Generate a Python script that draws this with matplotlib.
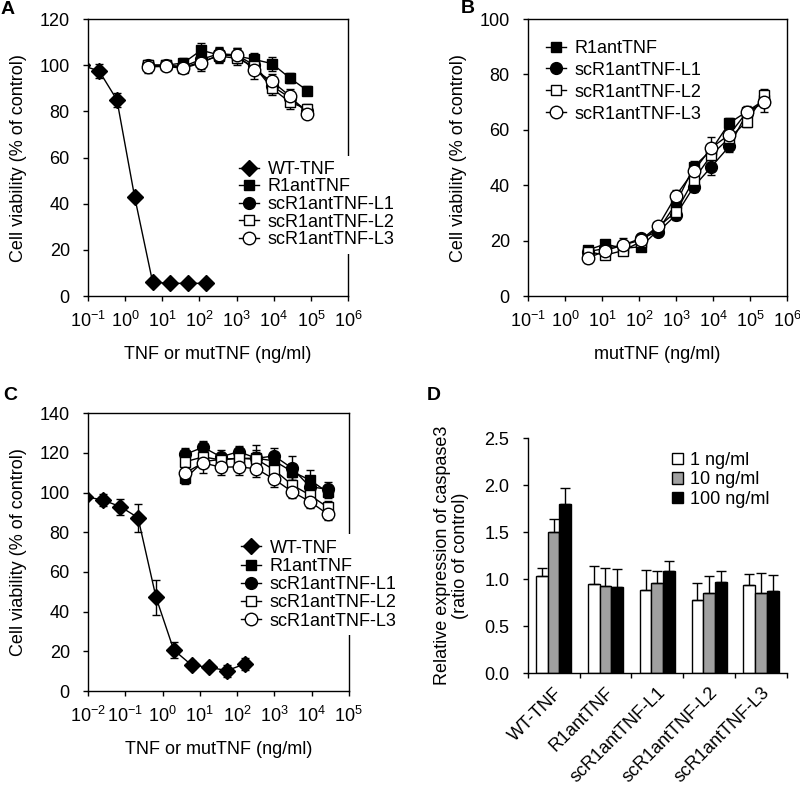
import numpy as np
import matplotlib
matplotlib.use('Agg')
import matplotlib.pyplot as plt

plt.rcParams['font.family'] = ['Liberation Sans', 'DejaVu Sans']
plt.rcParams['mathtext.fontset'] = 'custom'
plt.rcParams['mathtext.rm'] = 'Liberation Sans'
plt.rcParams['font.size'] = 13
plt.rcParams['axes.linewidth'] = 1.0

labels = ['WT-TNF', 'R1antTNF', 'scR1antTNF-L1', 'scR1antTNF-L2', 'scR1antTNF-L3']

# panel A
wt_a_x = [0.067, 0.2, 0.6, 1.8, 5.5, 16, 50, 150]
wt_a = [100, 97.5, 85, 43, 6, 5.5, 5.5, 5.5]
wt_a_err = [0, 3, 3, 1.5, 1, 0.5, 0.5, 0.5]
mut_a_x = [4.1, 12.3, 37, 111, 333, 1000, 3000, 9000, 27000, 81000]
r1_a = [100, 100, 101, 106.5, 104.5, 104, 102.5, 100.7, 94.5, 89]
l1_a = [100, 100, 99.5, 102.5, 105, 104.5, 100, 91, 86, 80]
l2_a = [100, 100, 99, 101.5, 104, 103, 99.5, 90, 84, 81]
l3_a = [99.3, 99.5, 98.7, 101, 104.5, 104.6, 98, 93, 86.7, 79]
r1_a_err = [2, 2, 2, 3, 3, 3, 3, 3, 2, 2]
l1_a_err = [2, 2, 2, 3, 3, 3, 3, 3, 3, 2]
l2_a_err = [2, 2, 2, 3, 3, 3, 3, 3, 3, 2]
l3_a_err = [2.5, 2, 2, 3.5, 3, 3, 4, 3, 3, 2]

# panel B
b_x = [4.1, 12.3, 37, 111, 333, 1000, 3000, 9000, 27000, 81000, 243000]
r1_b = [16.6, 18.8, 17.2, 17.8, 23.9, 33.5, 46.7, 52.8, 62.4, 66.6, 70.8]
l1_b = [16, 17.2, 18.4, 20.8, 23.3, 29.3, 39.5, 46.7, 54, 66, 70.2]
l2_b = [16, 14.8, 16.4, 19.6, 25, 30.5, 42, 51, 57, 63, 72.6]
l3_b = [13.6, 16.4, 18.4, 20.2, 25.4, 36.3, 45.2, 53.6, 58.2, 66.4, 70]
r1_b_err = [1.5, 1.5, 1.5, 1.5, 1.5, 2, 2, 2, 2, 2, 2]
l1_b_err = [1.5, 1.5, 1.5, 1.5, 1.5, 2, 2, 3, 2, 2, 2]
l2_b_err = [1.5, 1.5, 1.5, 1.5, 1.5, 2, 2, 2, 2, 2, 2]
l3_b_err = [1.5, 1.5, 2.5, 1.5, 1.5, 2, 2, 4, 2, 2, 3.5]

# panel C
wt_c_x = [0.0082, 0.025, 0.074, 0.22, 0.67, 2, 6, 18, 54, 160]
wt_c = [98, 96.3, 92.9, 87.4, 47.2, 20.7, 13.1, 11.9, 10.3, 13.6]
wt_c_err = [0, 3, 4, 7, 9, 4, 2, 1.5, 3, 3]
mut_c_x = [4.1, 12.3, 37, 111, 333, 1000, 3000, 9000, 27000]
r1_c = [107.2, 115.6, 116.8, 117.3, 117.3, 116, 110.6, 106.4, 100.2]
l1_c = [119.3, 122.9, 118, 120.7, 117.3, 118.5, 112.3, 103, 101.7]
l2_c = [115.6, 118, 116.5, 117.3, 116.8, 111.4, 103.9, 98.8, 92.6]
l3_c = [110, 115, 112.8, 113, 112, 106.7, 100.5, 95.5, 89.2]
r1_c_err = [3, 3, 3, 3, 4, 4, 4, 5, 3]
l1_c_err = [3, 3, 3.5, 3, 3, 4, 6, 4, 3.5]
l2_c_err = [3, 4, 3, 3, 7, 4, 4, 4, 3]
l3_c_err = [3, 5.3, 4, 4, 4, 3.7, 3, 3, 3]

# panel D
groups = ['WT-TNF', 'R1antTNF', 'scR1antTNF-L1', 'scR1antTNF-L2', 'scR1antTNF-L3']
doses = ['1 ng/ml', '10 ng/ml', '100 ng/ml']
d1 = [1.03, 0.95, 0.89, 0.78, 0.94]
d10 = [1.50, 0.925, 0.96, 0.85, 0.85]
d100 = [1.80, 0.92, 1.085, 0.97, 0.88]
d1_err = [0.095, 0.19, 0.21, 0.18, 0.12]
d10_err = [0.145, 0.19, 0.125, 0.19, 0.22]
d100_err = [0.175, 0.19, 0.105, 0.115, 0.165]

styles = {
    'WT-TNF': dict(marker='D', mfc='black', ms=8),
    'R1antTNF': dict(marker='s', mfc='black', ms=7.5),
    'scR1antTNF-L1': dict(marker='o', mfc='black', ms=8.5),
    'scR1antTNF-L2': dict(marker='s', mfc='white', ms=7.5),
    'scR1antTNF-L3': dict(marker='o', mfc='white', ms=9),
}

fig = plt.figure(figsize=(8, 7.89), dpi=100)
axA = fig.add_axes([0.11, 0.6248, 0.325, 0.351])
axB = fig.add_axes([0.66, 0.6248, 0.324, 0.351])
axC = fig.add_axes([0.11, 0.1242, 0.326, 0.352])
axD = fig.add_axes([0.6596, 0.1466, 0.324, 0.298])


def draw_series(ax, x, y, err, name):
    ax.errorbar(x, y, yerr=err, fmt='none', ecolor='black', elinewidth=1,
                capsize=3, capthick=1, zorder=2)
    ax.plot(x, y, color='black', lw=1, mec='black', mew=1, label=name,
            zorder=3, **styles[name])


def style_log(ax, xlo, xhi, ytop, ystep):
    ax.set_xscale('log')
    ax.set_xlim(xlo, xhi)
    ax.set_ylim(0, ytop)
    ax.set_yticks(np.arange(0, ytop + 1, ystep))
    ax.set_xticks([10.0 ** k for k in range(int(np.log10(xlo)), int(np.log10(xhi)) + 1)])
    ax.minorticks_off()
    ax.tick_params(direction='out', length=3.6, width=1, labelsize=13,
                   top=False, right=False)
    ax.tick_params(axis='y', pad=9.5)
    ax.tick_params(axis='x', pad=7)
    ax.set_ylabel('Cell viability (% of control)', fontsize=13)
    ax.yaxis.set_label_coords(-0.235, 0.5)


leg_kw = dict(frameon=True, facecolor='white', edgecolor='none', framealpha=1,
              fontsize=13, handlelength=1.1, handletextpad=0.5,
              borderpad=0.3, loc='upper left', fancybox=False)

# A
draw_series(axA, wt_a_x, wt_a, wt_a_err, 'WT-TNF')
for vals, err, name in zip([r1_a, l1_a, l2_a, l3_a],
                           [r1_a_err, l1_a_err, l2_a_err, l3_a_err], labels[1:]):
    draw_series(axA, mut_a_x, vals, err, name)
style_log(axA, 0.1, 1e6, 120, 20)
axA.set_xlabel('TNF or mutTNF (ng/ml)', fontsize=13, labelpad=11)
axA.legend(bbox_to_anchor=(0.525, 0.54), labelspacing=0.03, **leg_kw)

# B
for vals, err, name in zip([r1_b, l1_b, l2_b, l3_b],
                           [r1_b_err, l1_b_err, l2_b_err, l3_b_err], labels[1:]):
    draw_series(axB, b_x, vals, err, name)
style_log(axB, 0.1, 1e6, 100, 20)
axB.set_xlabel('mutTNF (ng/ml)', fontsize=13, labelpad=11)
axB.legend(bbox_to_anchor=(0.013, 0.977), labelspacing=0.27, **leg_kw)

# C
draw_series(axC, wt_c_x, wt_c, wt_c_err, 'WT-TNF')
for vals, err, name in zip([r1_c, l1_c, l2_c, l3_c],
                           [r1_c_err, l1_c_err, l2_c_err, l3_c_err], labels[1:]):
    draw_series(axC, mut_c_x, vals, err, name)
style_log(axC, 0.01, 1e5, 140, 20)
axC.set_xlabel('TNF or mutTNF (ng/ml)', fontsize=13, labelpad=11)
axC.legend(bbox_to_anchor=(0.531, 0.597), labelspacing=0.07, **leg_kw)

# D
pos = np.arange(len(groups))
w = 0.226
for off, vals, err, col, lab in zip([-w, 0, w], [d1, d10, d100],
                                    [d1_err, d10_err, d100_err],
                                    ['white', '#a0a0a0', 'black'], doses):
    axD.bar(pos + off, vals, width=w, color=col, edgecolor='black', lw=1, label=lab,
            yerr=[np.zeros(len(vals)), err], capsize=3.5,
            error_kw=dict(elinewidth=1, capthick=1, ecolor='black'))
axD.set_xlim(-0.5, len(groups) - 0.5)
axD.set_ylim(0, 2.5)
axD.set_yticks(np.arange(0, 2.51, 0.5))
axD.set_yticklabels([f'{v:.1f}' for v in np.arange(0, 2.51, 0.5)])
axD.spines['top'].set_visible(False)
axD.spines['right'].set_visible(False)
axD.set_xticks(pos)
axD.set_xticklabels(groups, rotation=45, ha='right', rotation_mode='anchor')
axD.set_xticks(np.arange(-0.5, len(groups)), minor=True)
axD.tick_params(axis='x', which='major', length=0, pad=8, labelsize=13)
axD.tick_params(axis='x', which='minor', direction='out', length=3.6, width=1)
axD.tick_params(axis='y', direction='out', length=3.6, width=1, labelsize=13, pad=9.5)
axD.set_ylabel('Relative expression of caspase3\n(ratio of control)', fontsize=13,
               linespacing=1.1)
axD.yaxis.set_label_coords(-0.225, 0.5)
axD.legend(loc='upper left', bbox_to_anchor=(0.5, 1.004), frameon=False, fontsize=13,
           handlelength=0.6, handleheight=0.6, handletextpad=0.4, labelspacing=0.15,
           borderpad=0.3)

for letter, x, y in [('A', 0.001, 0.999), ('B', 0.576, 1.0),
                     ('C', 0.004, 0.509), ('D', 0.533, 0.509)]:
    fig.text(x, y, letter, fontsize=14, fontweight='bold', ha='left', va='top')

fig.savefig('out.png', dpi=100)
